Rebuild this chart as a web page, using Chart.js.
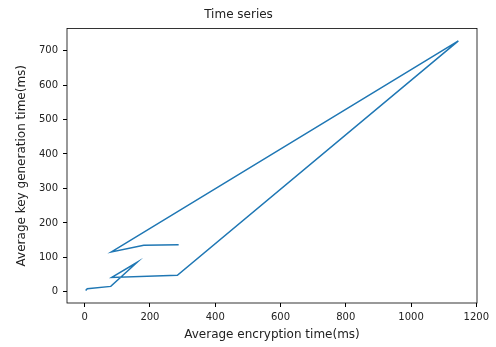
<!DOCTYPE html>
<html lang="en">
<head>
    <meta charset="UTF-8">
    <title>Time series</title>
    <script src="https://cdn.jsdelivr.net/npm/chart.js"></script>
    <style>
        body {
            margin: 0;
            background-color: #fff;
        }
        .chart-box {
            width: 496px;
            height: 347px;
        }
    </style>
</head>
<body>
    <div class="chart-box">
        <canvas id="myChart" width="496" height="347"></canvas>
    </div>

    <script>
        // values, in plotting order
        const encryptionTime = [3, 8, 80, 161, 83, 284, 1145, 82, 181, 288];
        const keyGenTime = [4, 9, 16, 86, 42, 48, 728, 116, 135, 137];
        const xTicks = [0, 200, 400, 600, 800, 1000, 1200];
        const yTicks = [0, 100, 200, 300, 400, 500, 600, 700];

        // matplotlib style 5% margins round the data
        function padRange(values) {
            const lo = Math.min(...values), hi = Math.max(...values);
            const m = (hi - lo) * 0.05;
            return { min: lo - m, max: hi + m };
        }
        const xRange = padRange(encryptionTime);
        const yRange = padRange(keyGenTime);

        const points = encryptionTime.map((x, i) => ({ x: x, y: keyGenTime[i] }));
        const font = 'DejaVu Sans';
        const textColor = '#222';

        // top and right spines as well
        const frame = {
            id: 'frame',
            afterDraw(chart) {
                const { ctx, chartArea: a } = chart;
                ctx.save();
                ctx.strokeStyle = '#000';
                ctx.lineWidth = 0.8;
                ctx.strokeRect(a.left, a.top, a.right - a.left, a.bottom - a.top);
                ctx.restore();
            }
        };

        const ctx = document.getElementById('myChart').getContext('2d');
        const myChart = new Chart(ctx, {
            type: 'scatter',
            data: {
                datasets: [{
                    data: points,
                    showLine: true,
                    borderColor: '#1f77b4',
                    borderWidth: 1.5,
                    pointRadius: 0,
                    tension: 0
                }]
            },
            options: {
                responsive: false,
                animation: false,
                layout: { padding: { top: 0, right: 19, bottom: 0, left: 0 } },
                plugins: {
                    legend: { display: false },
                    tooltip: { enabled: false },
                    title: {
                        display: true,
                        text: 'Time series',
                        color: textColor,
                        font: { family: font, size: 12, weight: 'normal' },
                        padding: { top: 8, bottom: 6 }
                    }
                },
                scales: {
                    x: {
                        type: 'linear',
                        min: xRange.min,
                        max: xRange.max,
                        afterBuildTicks: (s) => { s.ticks = xTicks.map(v => ({ value: v })); },
                        afterFit: (s) => { s.height = 44; },
                        grid: { drawOnChartArea: false, drawTicks: true, tickLength: 4, color: '#000' },
                        border: { display: false },
                        ticks: {
                            color: textColor, padding: 4, maxRotation: 0,
                            font: { family: font, size: 10 },
                            callback: (v) => String(v)
                        },
                        title: {
                            display: true,
                            text: 'Average encryption time(ms)',
                            color: textColor,
                            font: { family: font, size: 12 },
                            padding: { top: 0, bottom: 5 }
                        }
                    },
                    y: {
                        type: 'linear',
                        min: yRange.min,
                        max: yRange.max,
                        afterBuildTicks: (s) => { s.ticks = yTicks.map(v => ({ value: v })); },
                        afterFit: (s) => { s.width = 67; },
                        grid: { drawOnChartArea: false, drawTicks: true, tickLength: 4, color: '#000' },
                        border: { display: false },
                        ticks: {
                            color: textColor, padding: 5,
                            font: { family: font, size: 10 },
                            callback: (v) => String(v)
                        },
                        title: {
                            display: true,
                            text: 'Average key generation time(ms)',
                            color: textColor,
                            font: { family: font, size: 12 },
                            padding: { top: 15, bottom: 0 }
                        }
                    }
                }
            },
            plugins: [frame]
        });
    </script>
</body>
</html>
